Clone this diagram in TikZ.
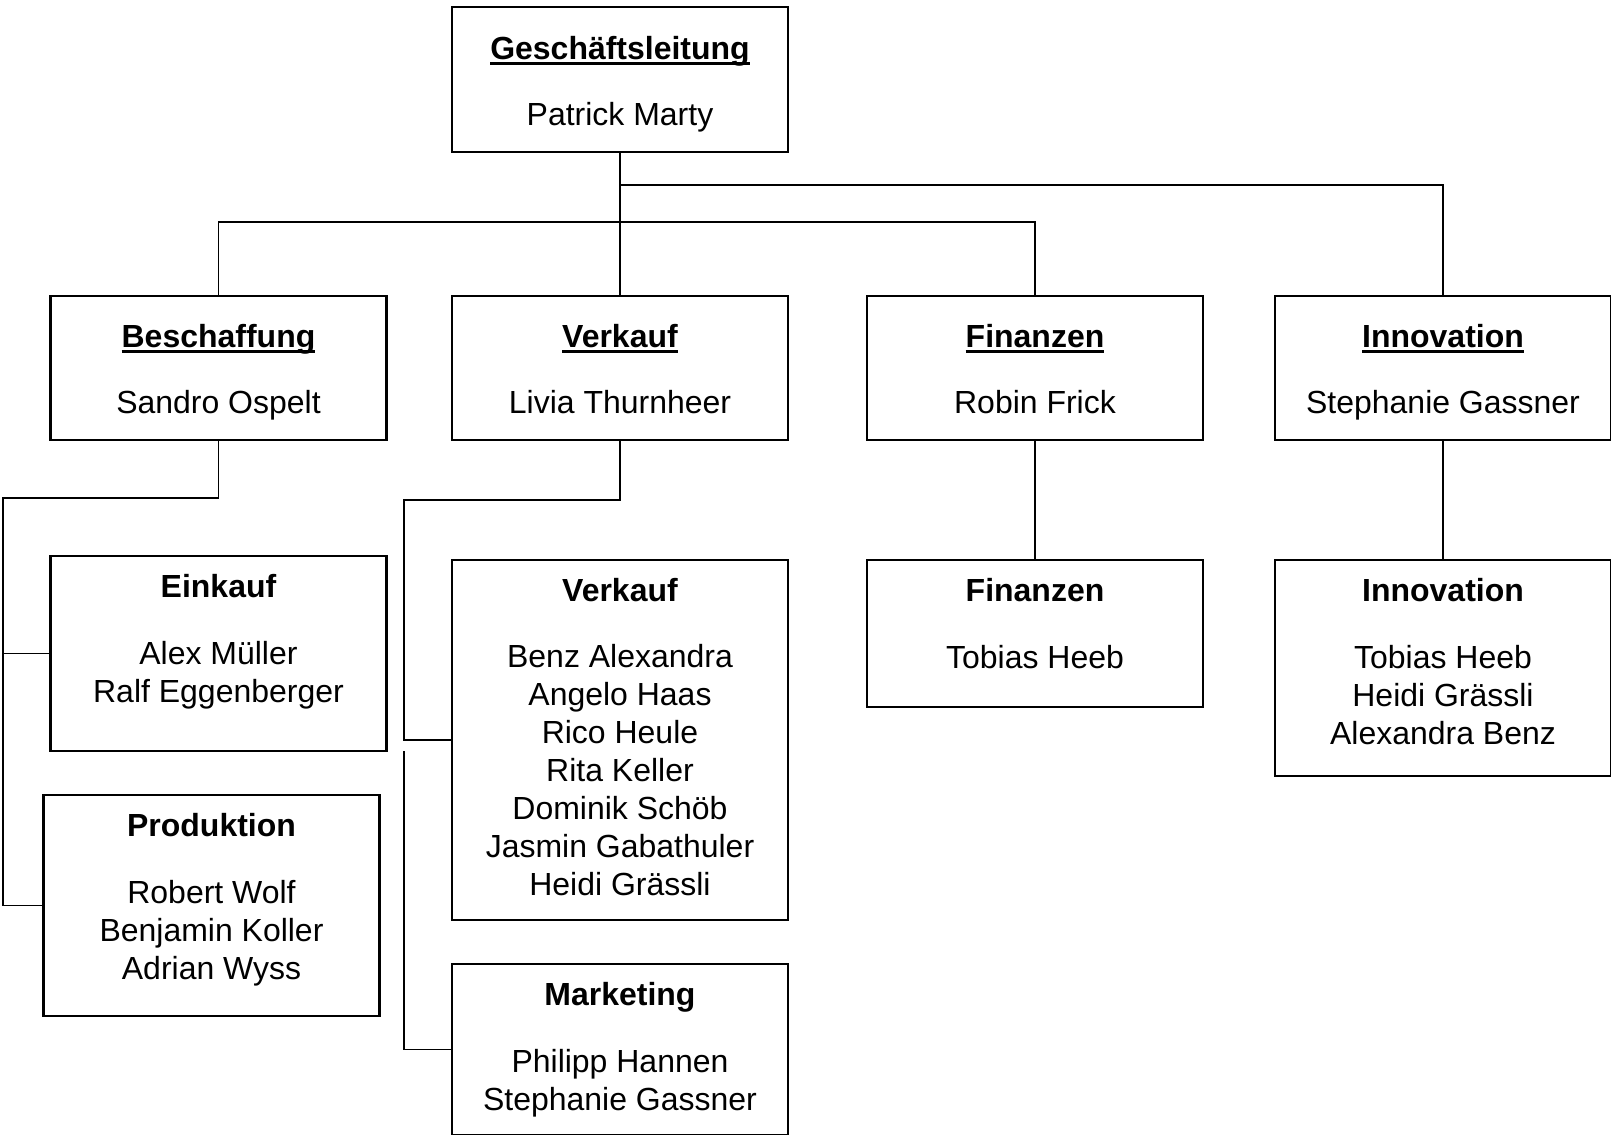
\documentclass[tikz,border=0pt]{standalone}
\usepackage{fontspec}
\setmainfont{Liberation Sans}
\usepackage{tikz}
\newcommand{\boxlines}[2]{\parbox[c][#1][t]{6.72cm}{\centering #2}}
\newcommand{\headline}[1]{\setbox0\hbox{\textbf{#1}}\rlap{\rule[-0.105cm]{\wd0}{0.05cm}}\box0}

\begin{document}
\begin{tikzpicture}[
    orgbox/.style={draw, rectangle, line width=1.3pt, inner sep=0pt,
        font=\fontsize{18.2pt}{21.6pt}\selectfont},
    orgline/.style={line width=1.1pt}]
\useasboundingbox (0,0) rectangle (32.22,-22.7);

% Nodes
\node[orgbox] (gl) at (12.4,-1.59) {\boxlines{2.9cm}{\rule{0pt}{1.05cm}\headline{Geschäftsleitung}\\[0.56cm] Patrick Marty}};

\node[orgbox] (beschaffung) at (4.37,-7.36) {\boxlines{2.88cm}{\rule{0pt}{1.03cm}\headline{Beschaffung}\\[0.56cm] Sandro Ospelt}};
\node[orgbox] (verkauf) at (12.4,-7.36) {\boxlines{2.88cm}{\rule{0pt}{1.03cm}\headline{Verkauf}\\[0.56cm] Livia Thurnheer}};
\node[orgbox] (finanzen) at (20.7,-7.36) {\boxlines{2.88cm}{\rule{0pt}{1.03cm}\headline{Finanzen}\\[0.56cm] Robin Frick}};
\node[orgbox] (innovation) at (28.86,-7.36) {\boxlines{2.88cm}{\rule{0pt}{1.03cm}\headline{Innovation}\\[0.56cm] Stephanie Gassner}};

\node[orgbox] (einkauf) at (4.37,-13.07) {\boxlines{3.9cm}{\rule{0pt}{0.83cm}\textbf{Einkauf}\\[0.58cm] Alex Müller\\ Ralf Eggenberger}};
\node[orgbox] (produktion) at (4.23,-18.11) {\boxlines{4.42cm}{\rule{0pt}{0.83cm}\textbf{Produktion}\\[0.58cm] Robert Wolf\\ Benjamin Koller\\ Adrian Wyss}};
\node[orgbox] (verkaufteam) at (12.4,-14.8) {\boxlines{7.2cm}{\rule{0pt}{0.83cm}\textbf{Verkauf}\\[0.57cm] Benz Alexandra\\ Angelo Haas\\ Rico Heule\\ Rita Keller\\ Dominik Schöb\\ Jasmin Gabathuler\\ Heidi Grässli}};
\node[orgbox] (marketing) at (12.4,-20.99) {\boxlines{3.42cm}{\rule{0pt}{0.83cm}\textbf{Marketing}\\[0.58cm] Philipp Hannen\\ Stephanie Gassner}};
\node[orgbox] (finanzteam) at (20.7,-12.67) {\boxlines{2.94cm}{\rule{0pt}{0.83cm}\textbf{Finanzen}\\[0.58cm] Tobias Heeb}};
\node[orgbox] (innoteam) at (28.86,-13.36) {\boxlines{4.32cm}{\rule{0pt}{0.83cm}\textbf{Innovation}\\[0.58cm] Tobias Heeb\\ Heidi Grässli\\ Alexandra Benz}};

\coordinate (btrunk) at (0.06,-9.96);
\coordinate (vtrunk) at (8.08,-10.0);
\coordinate (vgap) at (8.08,-15.02);

% Lines
\draw[orgline] (gl.south) -- (verkauf.north);
\draw[orgline] (beschaffung.north) -- ++(0,1.46) -| (finanzen.north);
\draw[orgline] (innovation.north) -- ++(0,2.2) -| (gl.south);
\draw[orgline] (finanzen.south) -- (finanzteam.north);
\draw[orgline] (innovation.south) -- (innoteam.north);
\draw[orgline] (beschaffung.south) |- (btrunk) |- (produktion.west);
\draw[orgline] (einkauf.west) -- (einkauf.west -| btrunk);
\draw[orgline] (verkauf.south) |- (vtrunk) |- (verkaufteam.west);
\draw[orgline] (vgap) |- (marketing.west);
\end{tikzpicture}
\end{document}
